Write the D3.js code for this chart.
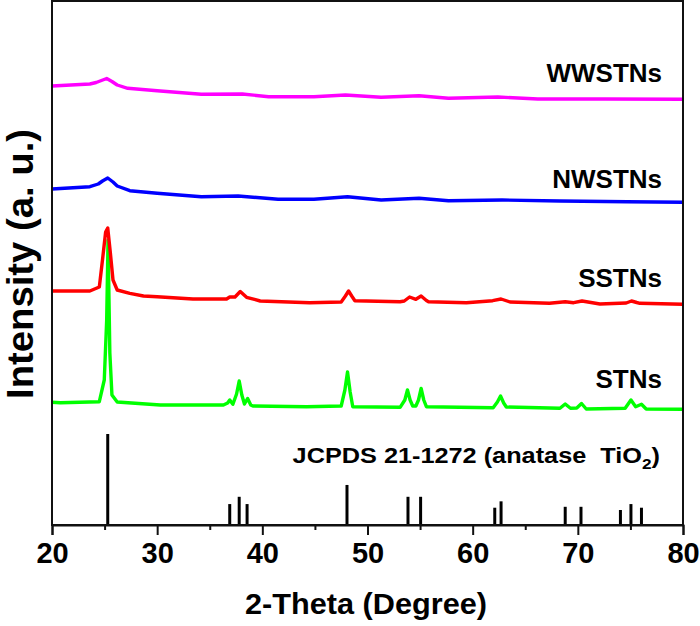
<!DOCTYPE html>
<html><head><meta charset="utf-8">
<script src="https://cdn.jsdelivr.net/npm/d3@7"></script>
<style>
html,body{margin:0;padding:0;background:#fff;}
text{font-family:"Liberation Sans",Arial,sans-serif;font-weight:bold;fill:#000;}
</style></head>
<body><svg id="c" width="700" height="626"></svg>
<script>
// ---- data (2-Theta in degrees, intensity in a.u.) ----
const xTicks = [20,30,40,50,60,70,80];
const xMinorTicks = [25,35,45,55,65,75];

const wwstnsX = [20,23.6,24.2,24.7,25.2,25.7,26.2,27.2,30,34.2,38.1,40.6,44.9,47.9,51.3,54.9,57.7,62.4,66.2,72.6,80];
const wwstnsY = [4390,4410,4425,4445,4465,4435,4400,4367,4343,4307,4310,4283,4283,4300,4277,4293,4267,4280,4260,4260,4257];

const nwstnsX = [20,23.6,24.4,24.8,25.3,25.8,26.2,27.4,30,34.2,37.7,41.5,44.9,48.1,51.3,54.9,57.7,62.8,68.3,74.7,80];
const nwstnsY = [3360,3383,3410,3440,3470,3430,3390,3343,3317,3283,3290,3257,3257,3283,3250,3267,3243,3250,3240,3233,3227];

const sstnsX = [20,23.6,24.5,24.8,25.1,25.3,25.55,25.8,26.2,27.4,28.7,30,33.4,36.6,36.9,37.4,37.9,38.5,39.8,44.5,47.5,47.9,48.2,48.5,48.8,53.1,53.5,54.0,54.6,55.1,55.6,55.8,59.4,61.9,62.7,63.55,67.3,68.8,69.6,70.4,72.1,74.6,75.1,75.6,75.9,80];
const sstnsY = [2340,2340,2380,2650,2930,2970,2720,2450,2350,2317,2290,2283,2260,2260,2280,2280,2335,2277,2240,2223,2230,2290,2340,2290,2243,2233,2240,2280,2257,2290,2245,2233,2223,2243,2260,2230,2217,2233,2223,2240,2210,2220,2240,2225,2217,2207];

const stnsX = [20,20.8,24.5,24.97,25.2,25.33,25.5,25.7,26.2,30.3,36.3,36.7,36.9,37.2,37.55,37.8,38.05,38.3,38.6,38.9,39.1,44.2,47.5,47.85,48.1,48.35,48.6,53.1,53.55,53.8,54.05,54.3,54.6,54.85,55.1,55.35,55.6,61.95,62.35,62.65,62.95,63.2,68.3,68.8,69.3,69.9,70.35,70.8,74.5,75.05,75.5,76.05,76.5,80];
const stnsY = [1227,1223,1233,1450,2050,2850,1720,1300,1230,1200,1200,1220,1250,1207,1310,1440,1300,1210,1265,1200,1190,1183,1190,1350,1530,1330,1183,1177,1250,1350,1250,1190,1190,1250,1365,1250,1183,1173,1230,1290,1220,1180,1167,1210,1167,1170,1215,1160,1167,1250,1183,1207,1160,1157];

// JCPDS 21-1272 anatase TiO2 reference lines (relative intensity)
const refX = [25.3,36.9,37.8,38.55,48.05,53.85,55.05,62.1,62.7,68.8,70.3,74.05,75.05,76.05];
const refI = [100,23,31,23,44,31,31,19,26,20,20,16.5,23,19];

const seriesNames = ["STNs","SSTNs","NWSTNs","WWSTNs"];
const seriesColors = ["#00ff00","#ff0000","#0000ff","#ff00ff"];
const seriesXs = [stnsX,sstnsX,nwstnsX,wwstnsX];
const seriesYs = [stnsY,sstnsY,nwstnsY,wwstnsY];

// ---- layout ----
const svg = d3.select("#c");
const L = 52, R = 683, T = 1, B = 525;
const x = d3.scaleLinear().domain([20,80]).range([L,R]);
const y = d3.scaleLinear().domain([0,5240]).range([B,T]);
const yRef = d3.scaleLinear().domain([0,100]).range([B,434]);

// series lines
const line = d3.line().x(d=>x(d[0])).y(d=>y(d[1]));
seriesNames.forEach((n,i)=>{
  const pts = seriesXs[i].map((v,j)=>[v,seriesYs[i][j]]);
  svg.append("path").datum(pts).attr("d",line)
    .attr("fill","none").attr("stroke",seriesColors[i])
    .attr("stroke-width",3.4).attr("stroke-linejoin","round");
});

// reference bars
svg.append("g").selectAll("line").data(refX.map((v,i)=>[v,refI[i]])).join("line")
  .attr("x1",d=>x(d[0])).attr("x2",d=>x(d[0]))
  .attr("y1",yRef(0)).attr("y2",d=>yRef(d[1]))
  .attr("stroke","#000").attr("stroke-width",3);

// frame
svg.append("rect").attr("x",L).attr("y",T).attr("width",R-L).attr("height",B-T)
  .attr("fill","none").attr("stroke","#111").attr("stroke-width",2);

// x axis
const ax = svg.append("g").attr("transform",`translate(0,${B})`)
  .call(d3.axisBottom(x).tickValues(xTicks).tickSize(10).tickFormat(d3.format("d")));
ax.select(".domain").attr("stroke","#111").attr("stroke-width",2);
ax.selectAll(".tick line").attr("stroke","#111").attr("stroke-width",2);
ax.selectAll(".tick text").attr("dy",0).attr("y",38)
  .style("font-size","29px").style("font-family","'Liberation Sans',Arial,sans-serif").style("font-weight","bold").attr("fill","#000");
const axm = svg.append("g").attr("transform",`translate(0,${B})`)
  .call(d3.axisBottom(x).tickValues(xMinorTicks).tickSize(5).tickFormat(""));
axm.select(".domain").remove();
axm.selectAll(".tick line").attr("stroke","#111").attr("stroke-width",2);

// axis titles
svg.append("text").attr("x",366).attr("y",614).attr("text-anchor","middle")
  .attr("textLength",242).attr("lengthAdjust","spacingAndGlyphs")
  .style("font-size","29px").text("2-Theta (Degree)");
svg.append("text").attr("transform","translate(33,264) rotate(-90)").attr("text-anchor","middle")
  .attr("textLength",270).attr("lengthAdjust","spacingAndGlyphs")
  .style("font-size","37px").text("Intensity (a. u.)");

// series labels
const labelBase = [388,287,188,82];
seriesNames.forEach((n,i)=>{
  svg.append("text").attr("x",662).attr("y",labelBase[i]).attr("text-anchor","end")
    .style("font-size","26px").text(n);
});

// reference label
const jt = svg.append("text").attr("transform","translate(660,463) scale(1.15,1)").attr("text-anchor","end")
  .style("font-size","22px");
jt.append("tspan").text("JCPDS 21-1272 (anatase\u00a0\u00a0TiO");
jt.append("tspan").attr("dy",6).style("font-size","15px").text("2");
jt.append("tspan").attr("dy",-6).text(")");
</script></body></html>
